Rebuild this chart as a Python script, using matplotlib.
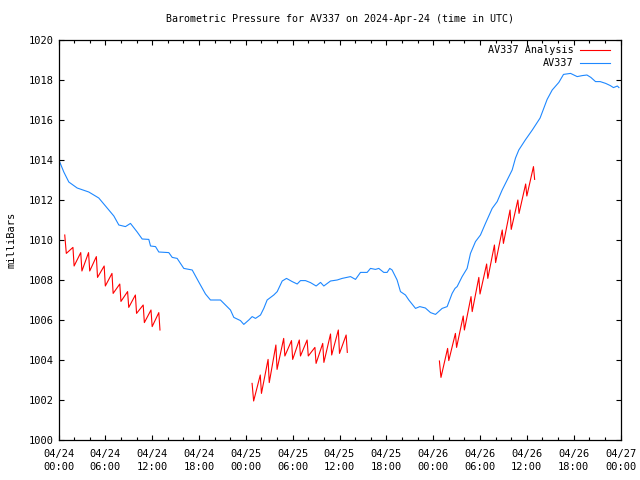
#!/usr/bin/env python3
"""Barometric pressure chart for AV337 (observations vs. analysis)."""

import matplotlib

matplotlib.use("Agg")
import matplotlib.pyplot as plt
from matplotlib.ticker import FixedLocator, MultipleLocator

plt.rcParams["font.family"] = ["DejaVu Sans Mono"]
plt.rcParams["font.size"] = 7

TITLE = "Barometric Pressure for AV337 on 2024-Apr-24 (time in UTC)"

# observed pressure, hours since 2024-04-24 00:00 UTC
obs_hours = [
    0.0, 0.68, 1.32, 2.39, 3.88, 5.16, 6.02, 7.09, 7.73, 8.58, 9.22, 10.08,
    10.72, 11.57, 11.79, 12.43, 12.85, 14.13, 14.57, 15.2, 16.05, 17.13,
    17.97, 18.83, 19.47, 20.75, 21.39, 22.03, 22.46, 23.31, 23.74, 24.38,
    24.81, 25.24, 25.88, 26.3, 26.73, 27.58, 28.02, 28.66, 29.21, 29.94,
    30.58, 31.0, 31.64, 32.28, 33.01, 33.57, 33.99, 34.85, 35.7, 36.34,
    37.41, 38.05, 38.69, 39.54, 39.97, 40.61, 41.03, 41.67, 42.1, 42.44,
    42.74, 43.38, 43.81, 44.45, 44.88, 45.74, 46.29, 47.0, 47.66, 48.3,
    49.15, 49.79, 50.43, 50.8, 51.07, 51.71, 52.35, 52.78, 53.42, 54.06,
    54.7, 55.56, 56.2, 56.84, 57.48, 58.12, 58.55, 58.97, 59.8, 60.7, 61.7,
    62.6, 63.25, 64.1, 64.7, 65.6, 66.45, 67.1, 67.7, 68.2, 68.8, 69.4,
    70.1, 70.7, 71.1, 71.6, 71.8,
]
obs_mbar = [
    1014.05, 1013.4, 1012.9, 1012.6, 1012.4, 1012.1, 1011.7, 1011.2, 1010.75,
    1010.67, 1010.83, 1010.4, 1010.05, 1010.03, 1009.7, 1009.67, 1009.4,
    1009.37, 1009.13, 1009.08, 1008.58, 1008.5, 1007.9, 1007.3, 1007.0,
    1007.0, 1006.75, 1006.5, 1006.13, 1005.97, 1005.78, 1006.0, 1006.17,
    1006.08, 1006.25, 1006.58, 1007.0, 1007.25, 1007.42, 1007.95, 1008.08,
    1007.92, 1007.8, 1007.97, 1007.97, 1007.87, 1007.7, 1007.88, 1007.7,
    1007.95, 1008.0, 1008.08, 1008.17, 1008.03, 1008.38, 1008.38, 1008.58,
    1008.53, 1008.58, 1008.38, 1008.38, 1008.58, 1008.5, 1008.0, 1007.42,
    1007.25, 1007.0, 1006.58, 1006.67, 1006.6, 1006.37, 1006.28, 1006.58,
    1006.67, 1007.33, 1007.58, 1007.67, 1008.17, 1008.58, 1009.33, 1009.92,
    1010.25, 1010.83, 1011.58, 1011.92, 1012.5, 1013.0, 1013.5, 1014.1,
    1014.5, 1015.0, 1015.5, 1016.1, 1017.03, 1017.5, 1017.88, 1018.28,
    1018.33, 1018.17, 1018.22, 1018.25, 1018.13, 1017.92, 1017.92, 1017.83,
    1017.72, 1017.62, 1017.7, 1017.62,
]

# analysis runs: hour of first reset, value before it, hourly lows and peaks
run_start_hours = [1, 25, 49]
run_first_mbar = [1010.25, 1002.83, 1003.95]
run_lows = [
    [1009.33, 1008.7, 1008.45, 1008.45, 1008.13, 1007.7, 1007.33, 1006.93,
     1006.63, 1006.33, 1005.87, 1005.67, 1005.5],
    [1001.95, 1002.33, 1002.87, 1003.53, 1004.2, 1004.03, 1004.2, 1004.2,
     1003.83, 1003.88, 1004.25, 1004.33, 1004.38],
    [1003.13, 1003.97, 1004.63, 1005.5, 1006.42, 1007.3, 1008.08, 1008.87,
     1009.83, 1010.53, 1011.33, 1012.2, 1013.03],
]
run_peaks = [
    [1009.63, 1009.37, 1009.37, 1009.17, 1008.7, 1008.33, 1007.8, 1007.42,
     1007.25, 1006.75, 1006.5, 1006.37],
    [1003.25, 1004.03, 1004.75, 1005.08, 1004.97, 1005.0, 1005.0, 1004.63,
     1004.83, 1005.3, 1005.5, 1005.25],
    [1004.58, 1005.33, 1006.2, 1007.17, 1008.13, 1008.8, 1009.75, 1010.5,
     1011.5, 1012.0, 1012.8, 1013.67],
]

tick_hours = list(range(0, 73, 6))
tick_labels = [
    "04/24\n00:00", "04/24\n06:00", "04/24\n12:00", "04/24\n18:00",
    "04/25\n00:00", "04/25\n06:00", "04/25\n12:00", "04/25\n18:00",
    "04/26\n00:00", "04/26\n06:00", "04/26\n12:00", "04/26\n18:00",
    "04/27\n00:00",
]

RED = "#ff0000"
BLUE = "#1e88ff"


def run_curve(start, first, lows, peaks):
    """Sawtooth: drop at each hour, climb during the hour."""
    xs = [start - 0.2]
    ys = [first]
    for i, lo in enumerate(lows):
        xs.append(start + i)
        ys.append(lo)
        if i < len(peaks):
            xs.append(start + i + 0.85)
            ys.append(peaks[i])
    return xs, ys


fig = plt.figure(figsize=(6.4, 4.8), dpi=100)
ax = fig.add_axes([58.5 / 640, 40 / 480, 562 / 640, 400 / 480])

for n in range(len(run_start_hours)):
    xs, ys = run_curve(run_start_hours[n], run_first_mbar[n],
                       run_lows[n], run_peaks[n])
    ax.plot(xs, ys, color=RED, linewidth=0.8,
            label="AV337 Analysis" if n == 0 else None)

ax.plot(obs_hours, obs_mbar, color=BLUE, linewidth=0.8, label="AV337")

ax.set_xlim(0, 72)
ax.set_ylim(1000, 1020)
ax.xaxis.set_major_locator(FixedLocator(tick_hours))
ax.set_xticklabels(tick_labels, linespacing=1.35)
ax.xaxis.set_minor_locator(MultipleLocator(2))
ax.yaxis.set_major_locator(MultipleLocator(2))

ax.tick_params(which="both", direction="in", top=True, right=True,
               width=0.8, labelsize=7.5)
ax.tick_params(axis="x", which="major", pad=6.5)
ax.tick_params(which="major", length=3.5)
ax.tick_params(which="minor", length=2)
for spine in ax.spines.values():
    spine.set_linewidth(0.9)

ax.set_ylabel("milliBars", fontsize=7.5, labelpad=9)
ax.set_title(TITLE, fontsize=7.2, pad=13)

ax.legend(loc="upper right", bbox_to_anchor=(1 - 2 / 562, 1 + 3 / 400),
          frameon=False, markerfirst=False, handlelength=3.0,
          handletextpad=0.6, labelspacing=0.3, borderaxespad=0.4,
          fontsize=7.3)

fig.savefig("out.png", dpi=100)
